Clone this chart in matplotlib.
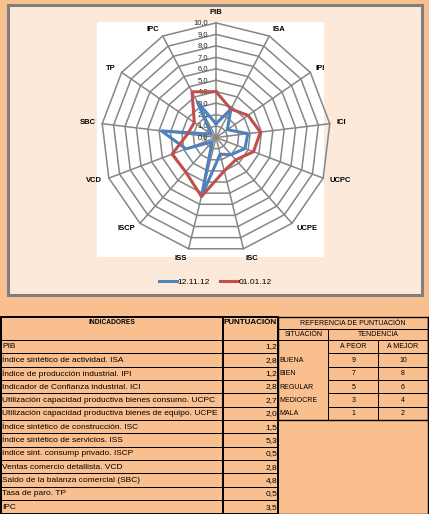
import matplotlib
matplotlib.use('Agg')
import matplotlib.pyplot as plt
import matplotlib.transforms as mtransforms
from matplotlib.patches import Rectangle
import numpy as np

plt.rcParams['font.family'] = ['Liberation Sans', 'DejaVu Sans']

# ---------------- data ----------------
categories = ['PIB', 'ISA', 'IPI', 'ICI', 'UCPC', 'UCPE', 'ISC', 'ISS', 'ISCP', 'VCD', 'SBC', 'TP', 'IPC']
serie_121112 = [1.2, 2.8, 1.2, 2.8, 2.7, 2.0, 1.5, 5.3, 0.5, 2.8, 4.8, 0.5, 3.5]
serie_010112 = [4.0, 2.8, 3.4, 3.9, 3.5, 2.6, 3.0, 5.3, 4.0, 4.1, 2.5, 2.3, 4.5]
series_labels = ['12.11.12', '01.01.12']
radial_ticks = [0, 1, 2, 3, 4, 5, 6, 7, 8, 9, 10]

indicadores = [
    'PIB',
    'Índice sintético de actividad. ISA',
    'Índice de producción industrial. IPI',
    'Indicador de Confianza industrial. ICI',
    'Utilización capacidad productiva bienes consumo. UCPC',
    'Utilización capacidad productiva bienes de equipo. UCPE',
    'Índice sintético de construcción. ISC',
    'Índice sintético de servicios. ISS',
    'Indice sint. consump privado. ISCP',
    'Ventas comercio detallista. VCD',
    'Saldo de la balanza comercial (SBC)',
    'Tasa de paro. TP',
    'IPC',
]
situaciones = ['BUENA', 'BIEN', 'REGULAR', 'MEDIOCRE', 'MALA']
a_peor = [9, 7, 5, 3, 1]
a_mejor = [10, 8, 6, 4, 2]

# ---------------- figure ----------------
W, H = 429, 514
fig = plt.figure(figsize=(W / 100, H / 100), dpi=100)
fig.patch.set_facecolor('#FABF8F')

bg = fig.add_axes([0, 0, 1, 1])
bg.set_xlim(0, W)
bg.set_ylim(H, 0)
bg.axis('off')

# chart area
bg.add_patch(Rectangle((7.5, 5), 414, 290, facecolor='#FDE9D9', edgecolor='#7F7F7F', lw=2.2))
bg.add_patch(Rectangle((97, 21.7), 227, 235, facecolor='white', edgecolor='none'))

cx, cy, R = 216, 137.5, 114.6
ax = fig.add_axes([(cx - R) / W, 1 - (cy + R) / H, 2 * R / W, 2 * R / H], projection='polar')
ax.set_theta_zero_location('N')
ax.set_theta_direction(-1)
ax.set_ylim(0, 10)
ax.patch.set_alpha(0)
ax.grid(False)
ax.spines['polar'].set_visible(False)
ax.set_xticks([])
ax.set_yticks([])

N = len(categories)
theta = np.linspace(0, 2 * np.pi, N, endpoint=False)
tc = np.append(theta, theta[0])
grid_col = '#868686'
for r in radial_ticks[1:]:
    ax.plot(tc, [r] * (N + 1), color=grid_col, lw=1.1, zorder=1, clip_on=False)
for t in theta:
    ax.plot([t, t], [0, 10], color=grid_col, lw=1.1, zorder=1, clip_on=False)

off = mtransforms.offset_copy(ax.transData, fig=fig, x=-5.5, y=0, units='points')
for r in radial_ticks:
    ax.text(0, r, f'{r},0', transform=off, ha='right', va='center', fontsize=5.5,
            color='#222222', zorder=3)

for t, lab in zip(theta, categories):
    s, c = np.sin(t), np.cos(t)
    ha = 'left' if s > 0.15 else ('right' if s < -0.15 else 'center')
    va = 'bottom' if c > 0.9 else ('top' if c < -0.9 else 'center')
    ax.text(t, 10.6, lab, ha=ha, va=va, fontsize=5.5, fontweight='bold', clip_on=False)

blue, red = '#4F81BD', '#C0504D'
l1, = ax.plot(tc, serie_121112 + serie_121112[:1], color=blue, lw=2.2, zorder=4, clip_on=False)
l2, = ax.plot(tc, serie_010112 + serie_010112[:1], color=red, lw=2.2, zorder=5, clip_on=False)

fig.legend([l1, l2], series_labels, loc='center', bbox_to_anchor=(215.5 / W, 1 - 282 / H),
           ncol=2, frameon=False, fontsize=6, handlelength=2.1, columnspacing=1.2,
           handletextpad=0.15)

# ---------------- table ----------------
x0, x1, x2, x3, x4, x5 = 1, 222.7, 278.3, 328.3, 378.3, 427.5
ytop, yh1, yh2, ybot = 316.5, 329, 340, 513.5
rh = (ybot - yh2) / len(indicadores)
lc = 'black'

def rect(x, y, w, h, lw=0.7):
    bg.add_patch(Rectangle((x, y), w, h, facecolor='none', edgecolor=lc, lw=lw))

rect(x0, ytop, x1 - x0, yh2 - ytop)
rect(x1, ytop, x2 - x1, yh2 - ytop)
clip = Rectangle((x0, ytop), x1 - x0, ybot - ytop, transform=bg.transData)
for i, (name, v) in enumerate(zip(indicadores, serie_121112)):
    y = yh2 + i * rh
    rect(x0, y, x1 - x0, rh)
    rect(x1, y, x2 - x1, rh)
    t = bg.text(x0 + 1.5, y + rh / 2 + 0.3, name, ha='left', va='center', fontsize=6)
    t.set_clip_path(clip)
    bg.text(x2 - 1, y + rh / 2 + 0.3, f'{v:.1f}'.replace('.', ','), ha='right', va='center', fontsize=6)
rect(x0, ytop, x2 - x0, ybot - ytop, lw=1.4)
bg.plot([x1, x1], [ytop, ybot], color=lc, lw=1.4)

bg.text((x0 + x1) / 2, 322.5, 'INDICADORES', ha='center', va='center', fontsize=4.8, fontweight='bold')
bg.text((x1 + x2) / 2, 322.5, 'PUNTUACIÓN', ha='center', va='center', fontsize=5.8, fontweight='bold')

# reference block
rect(x2, ytop, x5 - x2, yh1 - ytop)
rect(x2, yh1, x3 - x2, yh2 - yh1)
rect(x3, yh1, x5 - x3, yh2 - yh1)
rect(x2, yh2, x3 - x2, 6 * rh)
for i in range(6):
    y = yh2 + i * rh
    rect(x3, y, x4 - x3, rh)
    rect(x4, y, x5 - x4, rh)
rect(x2, ytop, x5 - x2, yh2 + 6 * rh - ytop, lw=1.0)
bg.plot([x5, x5], [ytop, ybot], color=lc, lw=1.0)
bg.plot([x2, x5], [ybot, ybot], color=lc, lw=1.0)

fs = 5
bg.text((x2 + x5) / 2, (ytop + yh1) / 2 + 0.3, 'REFERENCIA DE PUNTUACIÓN', ha='center', va='center', fontsize=fs)
bg.text((x2 + x3) / 2, (yh1 + yh2) / 2 + 0.3, 'SITUACIÓN', ha='center', va='center', fontsize=fs)
bg.text((x3 + x5) / 2, (yh1 + yh2) / 2 + 0.3, 'TENDENCIA', ha='center', va='center', fontsize=fs)
bg.text((x3 + x4) / 2, yh2 + rh / 2 + 0.3, 'A PEOR', ha='center', va='center', fontsize=fs)
bg.text((x4 + x5) / 2, yh2 + rh / 2 + 0.3, 'A MEJOR', ha='center', va='center', fontsize=fs)
for i, (s, p, m) in enumerate(zip(situaciones, a_peor, a_mejor)):
    yc = yh2 + (i + 1) * rh + rh / 2 + 0.3
    bg.text(x2 + 1.5, yc, s, ha='left', va='center', fontsize=fs)
    bg.text((x3 + x4) / 2, yc, str(p), ha='center', va='center', fontsize=fs)
    bg.text((x4 + x5) / 2, yc, str(m), ha='center', va='center', fontsize=fs)

fig.savefig('out.png', dpi=100, facecolor=fig.get_facecolor())
